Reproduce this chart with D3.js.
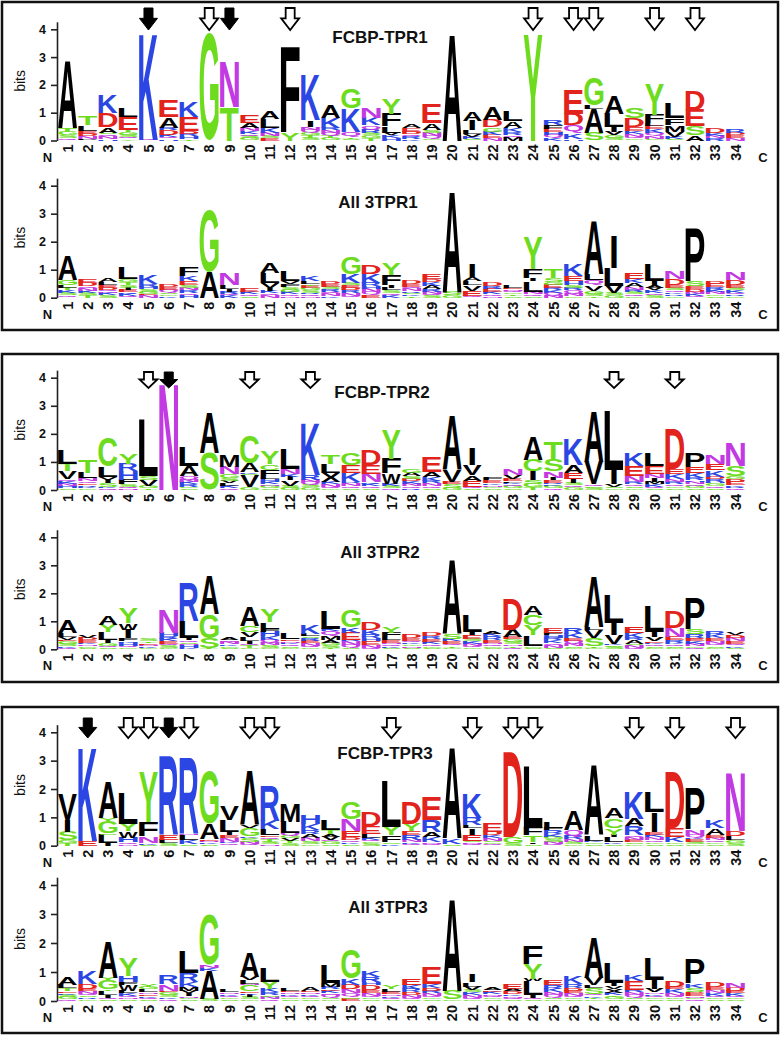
<!DOCTYPE html>
<html><head><meta charset="utf-8">
<script src="https://cdnjs.cloudflare.com/ajax/libs/d3/7.8.5/d3.min.js"></script>
<style>body{margin:0;background:#fff}</style>
</head><body><svg id="c" width="782" height="1037"></svg>
<script>
const positions = d3.range(1, 35);
const yTicks = [0, 1, 2, 3, 4];
const titles = ["FCBP-TPR1", "All 3TPR1", "FCBP-TPR2", "All 3TPR2", "FCBP-TPR3", "All 3TPR3"];
const arrowsFilled = [[5, 9], [6], [2, 6]];
const arrowsOpen = [[8, 12, 24, 26, 27, 30, 32], [5, 10, 13, 28, 31], [4, 5, 7, 10, 11, 17, 21, 23, 24, 29, 31, 34]];

// each position: letters bottom -> top, letter followed by height in bits
const fcbpTpr1 = ["Q.08 S.1 G.14 T.12 A2.43","P.05 N.1 D.1 E.1 L.2 T.3","H.06 N.08 Q.08 S.06 A.2 D.5 K.66","Y.06 Q.06 S.08 G.1 T.08 E.45 L.32","Q.03 K3.82","H.06 Q.06 K.08 D.18 R.08 A.38 E.6","T.05 H.1 R.08 D.1 E.5 K.55","G3.82","T1.2 N1.62","G.08 S.08 Q.08 K.1 N.12 A.18 E.25","E.08 S.08 N.12 K.18 L.3 A.28","Y.28 F3.06","S.1 T.1 G.08 Q.1 N.1 I.25 K1.62","G.08 T.08 Q.1 N.1 R.08 K.38 A.45","S.06 T.05 Q.2 K.84 G.72","T.08 G.1 S.1 R.12 Q.14 K.28 N.38","H.08 K.1 V.1 L.22 F.45 Y.55","K.06 R.08 Q.08 D.1 E.12 A.12","G.06 Q.1 N.12 S.1 A.24 E.7","A3.82","S.06 K.08 V.1 L.12 I.35 A.32","N.08 E.12 K.12 G.15 D.25 A.45","M.12 Q.08 R.1 K.15 A.25 L.35","Y3.82","K.1 Q.1 H.1 E.12 F.15 R.2","H.06 K.2 Q.3 D.4 E.86","S.28 A.86 L.12 G1.0","S.1 G.08 V.12 I.18 L.48 A.66","G.06 Q.08 N.1 K.1 E.15 D.3 S.38","G.06 N.1 Q.1 K.14 E.12 L.1 F.3 Y1.08","S.06 K.08 V.18 M.25 F.25 L.55","A.2 S.32 E.58 D.68","R.08 N.08 K.1 D.2","N.08 E.1 D.1 R.15"];
const all3Tpr1 = ["Q.08 S.1 K.08 T.1 L.1 G.18 A.86","T.08 S.08 K.08 N.1 Q.08 D.12 E.15","S.08 K.08 N.06 Q.06 D.08 E.1 L.1 A.12","Q.06 K.08 R.06 E.08 I.08 S.1 T.1 G.1 L.42","N.08 E.06 G.08 S.1 H.08 R.1 K.32","K.06 G.06 S.06 Q.1 E.1 D.1","H.08 Q.08 R.1 N.1 S.08 E.14 K.2 F.3","A.92 G2.2","K.08 Q.06 R.08 I.1 L.12 N.42","S.06 Q.06 K.08 E.12","N.08 Q.08 K.08 I.1 V.18 L.36 A.36","N.06 Q.06 K.08 G.08 S.1 F.1 V.1 L.35","N.06 Q.06 R.06 S.08 G.08 E.08 T.06 L.1 K.2","K.06 N.08 Q.08 R.08 S.08 E.1 D.1","Q.06 N.1 R.1 D.1 E.1 S.08 K.3 G.6","E.1 Q.1 N.12 H.1 R.12 K.3 D.32","K.08 Q.08 S.1 L.1 I.1 F.35 Y.42","T.06 K.06 S.06 R.06 N.08 Q.08 E.1 D.12","S.08 Q.06 N.08 R.08 A.12 K.15 D.1 E.2","G.08 S.12 A3.64","Q.06 E.18 V.2 L.15 A.15 I.45","N.06 Q.06 K.08 E.12 R.1 D.12","S.06 T.06 G.06 Q.06 N.06 E.06 L.08","S.06 Q.08 N.08 L.38 I.1 F.34 Y1.13","N.08 Q.1 K.08 R.08 E.12 G.1 S.15 T.34","G.06 N.1 Q.1 R.1 S.1 H.12 E.2 K.42","T.06 S.08 G.1 V.2 Q.2 L.22 A1.92","G.08 S.08 V.25 L.65 I1.15","G.06 Q.06 S.08 R.08 N.1 A.15 K.14 E.22","S.08 Q.08 K.1 V.1 A.1 I.15 L.6","G.06 R.06 K.06 Q.08 S.08 E.1 D.22 N.28","Q.06 K.08 N.08 D.1 E.1 S.16 P1.9","S.06 G.06 N.08 K.08 R.1 E.12 D.1","G.06 R.06 Q.06 K.08 S.08 E.1 D.18 N.26"];
const fcbpTpr2 = ["S.06 H.08 N.08 K.1 Q.08 V.26 T.28 L.5","G.06 K.06 R.06 E.06 Q.08 N.1 L.2 T.46","Q.06 K.06 S.12 I.12 V.1 L.38 C1.05","N.06 Q.06 S.08 F.16 H.32 R.26 Y.38","T.06 G.08 V.22 S.14 L2.0","N3.8","S.06 G.06 R.08 K.08 N.1 Q.12 A.36 L.7","S1.32 A1.45","Q.06 K.08 L.1 V.08 S.1 G.14 N.26 M.42","G.1 V.42 S.06 K.06 A.32 C1.0","S.06 G.08 N.06 K.1 H.08 L.1 F.24 C.2 Y.46","G.08 S.08 V.18 I.14 K.1 N.18 L.72","G.1 S.08 Q.1 N.08 R.16 K1.84","G.06 Q.06 N.1 K.08 X.3 L.32 T.32","S.06 Q.08 N.1 R.06 K.3 E.28 G.44","S.06 Q.08 K.08 R.06 N.3 E.32 D.55","Q.06 S.08 K.08 W.36 F.54 Y1.06","R.06 Q.08 N.08 K.1 D.08 S.1 A.12 G.12","S.06 Q.08 N.1 R.08 K.14 A.18 E.54","G.08 S.14 E.08 V.4 A1.95","S.06 Q.06 E.2 A.2 V.38 I.6","S.06 G.06 N.06 K.06 E.1 F.1","S.06 G.08 Q.06 K.06 L.06 E.08 V.14 N.22","T.1 G.12 S.12 I.32 C.4 A.82","Q.06 G.08 K.06 R.06 E.08 I.1 N.22 S.42 T.66","G.08 Q.08 S.08 I.16 E.22 A.26 K.94","S.08 G.06 Q.06 V.8 A1.8","G.06 S.06 V.1 I.5 L2.1","G.06 S.06 Q.08 R.08 N.22 E.34 K.48","S.06 Q.06 K.1 M.08 I.14 N.14 E.28 L.46","S.06 G.06 Q.08 R.08 N.1 K.2 E.18 D1.4","S.06 G.08 Q.06 N.08 H.06 R.08 K.2 E.2 P.5","S.06 Q.08 G.1 H.06 R.08 D.1 K.22 E.24 N.34","Q.06 R.06 K.06 E.12 D.1 G.1 S.36 N.85"];
const all3Tpr2 = ["Q.06 K.06 S.08 G.08 E.06 V.1 L.14 A.48","S.06 G.06 N.06 K.06 E.08 D.08 V.08","S.06 Q.06 G.1 I.12 L.28 Y.26 A.3","G.06 Q.06 H.12 K.06 F.1 I.3 W.24 Y.56","G.05 K.06 N.06 E.06 T.06 S.1","G.06 S.08 Q.06 E.08 K.1 R.1 H.12 N.84","K.06 H.08 N.06 S.06 Q.06 I.08 L.6 R1.38","T.04 S.36 G.86 A1.38","S.06 G.06 K.06 N.08 Q.06 A.1","G.06 T.08 Q.06 I.1 L.14 V.16 C.24 A.7","G.06 S.08 N.1 Q.1 K.12 H.16 F.1 L.24 Y.46","G.06 S.06 Q.06 K.06 N.06 E.06 L.22","G.06 Q.06 N.1 E.08 R.1 S.06 L.1 K.3","T.06 S.08 G.1 A.08 M.14 Q.18 K.1 L.64","S.06 Q.1 N.12 R.06 E.26 K.2 G.62","Q.06 N.1 E.14 H.1 R.12 K.18 D.26","S.06 K.06 Q.06 N.06 E.1 L.1 F.16 Y.22","S.06 N.06 G.06 K.06 Q.06 E.1 D.14","S.06 G.06 Q.06 K.08 E.1 R.1 D.12","G.06 T.06 Q.08 E.08 K.08 S.2 A2.65","G.06 Q.06 N.08 K.08 S.08 E.14 I.12 L.58","S.06 G.06 Q.06 N.06 E.1 R.12 K.1 A.1","Q.06 T.06 N.06 S.08 G.1 E.08 A.26 D1.1","S.06 G.06 L.38 Y.36 C.36 A.3","S.06 N.08 Q.08 K.1 R.1 H.1 F.08 E.2","G.06 S.06 N.08 Q.1 E.1 K.16 R.24","G.06 T.06 S.28 V.28 L.1 A1.8","S.08 G.06 K.06 V.32 I.42 L.98","Q.06 N.08 S.06 A.14 R.08 K.16 E.22","G.06 S.06 Q.06 K.06 E.06 V.14 I.18 L.92","G.06 S.06 Q.06 K.06 R.08 E.12 N.32 D.6","Q.06 G.06 N.08 K.08 E.08 D.06 R.14 S.16 P1.1","G.06 S.06 Q.08 N.1 E.1 K.12 R.14","S.06 K.06 Q.08 E.1 N.12 D.1 V.1"];
const fcbpTpr3 = ["T.1 G.08 S.3 I.42 V.9","E.18 K3.3","I.08 L.3 S.06 G.42 Y.1 A1.3","N.06 Q.06 H.16 W.24 Y.26 L1.08","S.04 K.06 N.22 F.52 Y1.76","S.08 L.12 E.18 R2.76","S.06 K.14 L.16 N.06 R2.66","S.06 K.06 N.06 E.06 A.54 G1.84","Q.08 K.06 N.14 E.1 I.12 L.42 V.48","Q.06 N.08 S.14 K.06 G.28 V.1 A1.9","N.06 S.08 T.08 Q.08 E.06 L.22 K.3 R1.2","S.08 T.08 V.1 G.1 Q.1 L.38 M.65","G.06 S.1 N.12 A.14 R.12 K.24 H.3","S.06 G.08 Q.06 V.12 A.1 T.14 L.36","S.06 K.06 Q.08 D.1 E.22 N.4 G.62","S.08 G.06 Q.06 K.08 L.14 E.26 D.5","K.06 S.06 F.24 Y.3 L1.6","Q.06 K.06 N.08 R.18 E.14 Y.26 D.75","Q.06 N.06 K.18 A.2 R.42 E.82","S.06 K.2 A3.22","Q.06 N.06 S.06 E.2 I.24 L.1 R.26 K.88","Q.06 G.06 S.06 N.1 K.1 D.12 E.3","S.1 G.22 D3.0","S.06 I.06 T.24 F.26 L2.18","Q.06 N.08 S.08 G.1 K.08 R.14 F.08 L.22","G.06 S.08 N.08 R.12 Q.2 A.7","S.06 G.06 K.06 L.18 A2.48","S.06 K.06 L.18 I.08 Y.24 C.34 A.34","G.06 S.06 E.08 N.1 Q.08 R.3 A.26 K.98","S.06 G.06 Q.08 N.1 K.08 E.1 I.7 L.7","S.06 G.06 K.2 E.3 D2.0","G.06 S.08 E.08 K.06 Q.1 N.2 P1.44","S.06 G.06 Q.08 N.08 E.1 A.24 K.28","S.1 G.1 L.14 D.18 N2.06"];
const all3Tpr3 = ["Q.06 G.08 S.08 K.06 E.06 T.1 L.12 A.26","G.06 R.06 S.06 Q.06 N.1 E.08 D.18 K.46","S.06 Q.06 I.1 L.14 T.06 G.3 Y.08 A1.25","S.06 N.06 Q.06 K.08 L.1 W.2 F.08 H.22 Y.6","S.06 Q.06 K.06 E.06 N.06 L.1 G.08 Y.1","Q.06 K.06 S.08 G.1 E.06 N.24 R.3","S.06 G.06 N.06 I.08 V.1 M.14 K.16 R.32 L.74","S.08 A.96 K.1 N.1 G1.72","S.06 G.06 Q.06 K.06 N.06 L.1","G.06 S.08 I.08 K.06 E.06 C.2 N.06 L.12 V.12 A.86","Q.06 N.08 S.06 R.1 K.12 Y.24 L.46","S.06 G.06 Q.06 K.06 N.06 E.06 L.1","S.06 G.06 Q.06 K.06 N.06 E.06 A.12","G.06 S.06 Q.08 N.06 K.08 E.06 R.08 M.14 L.62","E.08 S.06 Q.12 N.14 D.16 K.22 G.98","S.06 G.06 Q.06 N.1 E.1 D.16 H.1 R.18 K.22","S.06 Q.06 K.06 N.06 E.08 L.1 Y.12","S.06 Q.06 N.08 D.1 R.12 K.14 E.22","S.06 G.06 Q.06 N.08 R.1 D.1 K.14 E.58","G.06 S.3 A3.16","G.06 Q.06 N.08 K.1 S.08 V.12 L.14 I.26","S.06 G.06 Q.06 N.06 K.08 E.06 A.08","S.06 Q.06 N.06 K.06 D.1 A.08 E.18","S.06 Q.06 I.1 L.46 W.08 Y.52 F.6","G.06 S.06 Q.08 N.1 K.12 R.12 E.16","S.06 G.06 Q.06 N.08 E.08 D.1 R.14 K.26","G.06 T.06 K.06 Q.06 S.2 L.1 V.26 A1.38","S.06 G.08 T.06 K.08 X.14 V.1 I.1 L.72","G.06 S.06 Q.08 N.1 R.08 E.3 K.2","S.06 G.06 Q.06 K.06 N.06 V.12 I.3 L.76","S.06 G.06 Q.06 N.08 K.14 E.1 D.22","Q.06 G.06 N.06 E.08 D.06 S.14 K.14 P.84","S.06 G.06 Q.06 K.1 N.1 E.1 D.18","S.06 G.06 Q.06 K.08 E.08 D.12 N.18"];

const logoData = [fcbpTpr1, all3Tpr1, fcbpTpr2, all3Tpr2, fcbpTpr3, all3Tpr3];

// layout
const panels = [{y: 2, h: 328, ay: [8, 30]}, {y: 354, h: 328, ay: [372, 388]}, {y: 707, h: 326, ay: [718, 738]}];
const logoLayout = [
  {base: 140.5, top4: 29.3, titleY: 43, titleX: 380},
  {base: 297.7, top4: 185.7, titleY: 208, titleX: 378},
  {base: 490, top4: 377.7, titleY: 398, titleX: 382},
  {base: 649.3, top4: 537.3, titleY: 558, titleX: 380},
  {base: 845.7, top4: 732.3, titleY: 759, titleX: 385},
  {base: 1001, top4: 885, titleY: 913, titleX: 388}
];

const GREEN = "#6EDC1E", BLUE = "#2C46E4", RED = "#E2231C", PURPLE = "#C23AE2", BLACK = "#000";
function colorOf(ch) {
  if ("GSTYC".includes(ch)) return GREEN;
  if ("KRH".includes(ch)) return BLUE;
  if ("DE".includes(ch)) return RED;
  if ("NQ".includes(ch)) return PURPLE;
  return BLACK;
}
const FONT = "Liberation Sans";
const ctx = document.createElement("canvas").getContext("2d");
ctx.font = `bold 100px '${FONT}'`;
const mcache = {};
function metrics(ch) {
  if (!mcache[ch]) {
    const m = ctx.measureText(ch);
    mcache[ch] = {l: m.actualBoundingBoxLeft, r: m.actualBoundingBoxRight, a: m.actualBoundingBoxAscent, d: m.actualBoundingBoxDescent};
  }
  return mcache[ch];
}
const parse = s => s.split(" ").map(t => ({ch: t[0], h: +t.slice(1)}));

const svg = d3.select("#c");
svg.append("rect").attr("width", 782).attr("height", 1037).attr("fill", "#fff");
const x = d3.scaleBand().domain(positions).range([58, 745]).paddingInner(0.06);
const cx = p => x(p) + x.bandwidth() / 2;

panels.forEach((p, pi) => {
  svg.append("rect").attr("x", 2).attr("y", p.y).attr("width", 776).attr("height", p.h)
    .attr("fill", "none").attr("stroke", "#111").attr("stroke-width", 2.5);
  const arrow = (c, filled) => {
    const [y0, y1] = p.ay, yh = y0 + (y1 - y0) * 0.47;
    const pts = [[c - 4.5, y0], [c + 4.5, y0], [c + 4.5, yh], [c + 9, yh], [c, y1], [c - 9, yh], [c - 4.5, yh]];
    svg.append("path").attr("d", "M" + pts.map(q => q.join(",")).join("L") + "Z")
      .attr("fill", filled ? "#000" : "#fff").attr("stroke", "#000").attr("stroke-width", filled ? 1 : 1.8)
      .attr("stroke-linejoin", "miter");
  };
  arrowsOpen[pi].forEach(q => arrow(cx(q), false));
  arrowsFilled[pi].forEach(q => arrow(cx(q), true));
});

logoData.forEach((data, li) => {
  const L = logoLayout[li];
  const y = d3.scaleLinear().domain([0, 4]).range([L.base, L.top4]);
  const g = svg.append("g");
  const yA = y.copy().domain([0, 4.27]).range([L.base, y(4.27)]);
  const ax = g.append("g").attr("transform", "translate(57,0)")
    .call(d3.axisLeft(yA).tickValues(yTicks).tickFormat(d3.format("d")).tickSize(6).tickPadding(5).tickSizeOuter(0));
  ax.select(".domain").attr("stroke", "#222").attr("stroke-width", 1.6);
  ax.selectAll(".tick line").attr("stroke", "#222").attr("stroke-width", 1.6);
  ax.selectAll(".tick text").attr("font-family", FONT).attr("font-weight", "bold").attr("font-size", 12.5).attr("fill", "#111");
  g.append("text").attr("transform", `translate(25,${y(2) - 4}) rotate(-90)`).attr("text-anchor", "middle")
    .attr("font-family", FONT).attr("font-size", 14).attr("fill", "#111").text("bits");
  g.append("text").attr("x", L.titleX).attr("y", L.titleY).attr("text-anchor", "middle")
    .attr("font-family", FONT).attr("font-weight", "bold").attr("font-size", 17).attr("fill", "#111").text(titles[li]);
  // position labels
  positions.forEach(p => {
    g.append("text").attr("transform", `translate(${cx(p) + 5.2},${L.base + 4}) rotate(-90)`)
      .attr("text-anchor", "end").attr("font-family", FONT).attr("font-weight", "bold").attr("font-size", 14.5)
      .attr("fill", "#111").text(p);
  });
  g.append("text").attr("x", 47.5).attr("y", L.base + 21).attr("text-anchor", "middle")
    .attr("font-family", FONT).attr("font-weight", "bold").attr("font-size", 13).attr("fill", "#111").text("N");
  g.append("text").attr("x", 763).attr("y", L.base + 21).attr("text-anchor", "middle")
    .attr("font-family", FONT).attr("font-weight", "bold").attr("font-size", 13).attr("fill", "#111").text("C");
  // letters
  data.forEach((str, i) => {
    const p = positions[i];
    let acc = 0;
    parse(str).forEach(({ch, h}) => {
      const yTop = y(acc + h), yBot = y(acc);
      acc += h;
      const m = metrics(ch);
      const full = x.bandwidth();
      const w = ch === "I" ? full * 0.3 : full;
      const x0 = cx(p) - w / 2;
      const sx = w / (m.l + m.r), sy = (yBot - yTop) / (m.a + m.d);
      g.append("text").text(ch)
        .attr("transform", `translate(${x0 + m.l * sx},${yTop + m.a * sy}) scale(${sx},${sy})`)
        .attr("font-family", FONT).attr("font-weight", "bold").attr("font-size", 100)
        .attr("fill", colorOf(ch));
    });
  });
});
</script></body></html>
